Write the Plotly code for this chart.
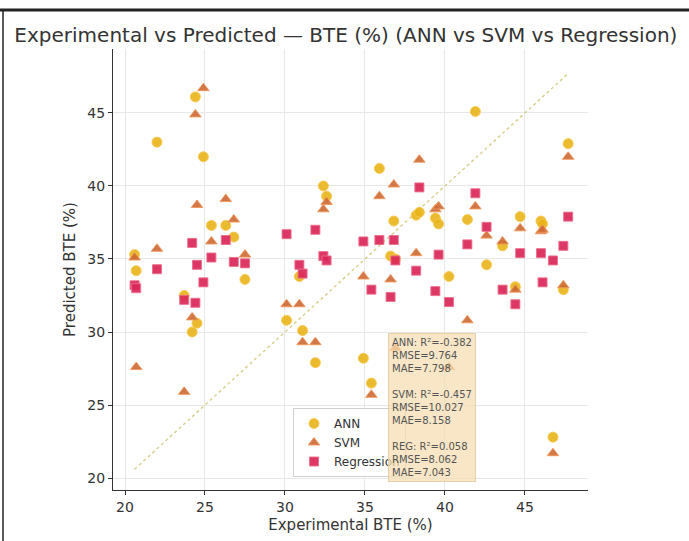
import plotly.graph_objects as go

# Experimental BTE (%) values (x) and predictions by each model
exp_bte = [20.6, 20.7, 22.0, 23.7, 24.2, 24.4, 24.5, 24.9, 25.4, 26.3, 26.8, 27.5,
           30.1, 30.9, 31.1, 31.9, 32.4, 32.6, 34.9, 35.4, 35.9, 36.6, 36.8, 36.9,
           38.2, 38.4, 39.4, 39.6, 40.25, 41.4, 41.9, 42.6, 43.6, 44.4, 44.7, 46.0,
           46.1, 46.75, 47.4, 47.7]
ann_pred = [35.3, 34.2, 43.0, 32.5, 30.0, 46.1, 30.6, 42.0, 37.3, 37.3, 36.5, 33.6,
            30.8, 33.8, 30.1, 27.9, 40.0, 39.3, 28.2, 26.5, 41.2, 35.2, 37.6, 35.0,
            38.0, 38.2, 37.8, 37.4, 33.8, 37.7, 45.1, 34.6, 35.9, 33.1, 37.9, 37.6,
            37.4, 22.8, 32.9, 42.9]
svm_pred = [35.1, 27.6, 35.7, 25.9, 31.0, 44.9, 38.7, 46.7, 36.2, 39.1, 37.7, 35.3,
            31.9, 31.9, 29.3, 29.3, 38.4, 38.9, 33.8, 25.7, 39.3, 33.6, 40.1, 28.9,
            35.4, 41.8, 38.4, 38.6, 27.6, 30.8, 38.6, 36.6, 36.2, 32.9, 37.1, 36.9,
            37.0, 21.7, 33.2, 42.0]
reg_pred = [33.2, 33.0, 34.3, 32.2, 36.1, 32.0, 34.6, 33.4, 35.1, 36.3, 34.8, 34.7,
            36.7, 34.6, 34.0, 37.0, 35.2, 34.9, 36.2, 32.9, 36.3, 32.4, 36.3, 34.9,
            34.2, 39.9, 32.8, 35.3, 32.05, 36.0, 39.5, 37.2, 32.9, 31.9, 35.4, 35.4,
            33.4, 34.9, 35.9, 37.9]

metrics_text = ["ANN: R²=-0.382", "RMSE=9.764", "MAE=7.798", "",
                "SVM: R²=-0.457", "RMSE=10.027", "MAE=8.158", "",
                "REG: R²=0.058", "RMSE=8.062", "MAE=7.043"]

x_ticks = [20, 25, 30, 35, 40, 45]
y_ticks = [20, 25, 30, 35, 40, 45]

diag = [min(exp_bte), max(exp_bte)]

fig = go.Figure()
fig.add_trace(go.Scatter(x=diag, y=diag, mode="lines", showlegend=False,
                         line=dict(color="#d9d08c", width=1.5, dash="dot"), hoverinfo="skip"))
fig.add_trace(go.Scatter(x=exp_bte, y=ann_pred, mode="markers", name="ANN",
                         marker=dict(symbol="circle", size=10, color="rgba(232,180,24,0.9)",
                                     line=dict(color="rgba(248,200,80,0.9)", width=1))))
fig.add_trace(go.Scatter(x=exp_bte, y=svm_pred, mode="markers", name="SVM",
                         marker=dict(symbol="triangle-up", size=10, color="rgba(204,104,52,0.9)",
                                     line=dict(color="rgba(240,150,90,0.9)", width=1))))
fig.add_trace(go.Scatter(x=exp_bte, y=reg_pred, mode="markers", name="Regression",
                         marker=dict(symbol="square", size=9, color="rgba(218,38,88,0.92)",
                                     line=dict(color="rgba(236,110,140,0.9)", width=1))))

fig.update_layout(
    width=689, height=541,
    margin=dict(l=113, r=101, t=49, b=51),
    paper_bgcolor="white", plot_bgcolor="white",
    font=dict(family="DejaVu Sans", color="#333333", size=14),
    title=dict(text="Experimental vs Predicted — BTE (%) (ANN vs SVM vs Regression)",
               x=0.502, xanchor="center", y=1 - 35 / 541, yanchor="middle",
               font=dict(size=20, color="#333333")),
    xaxis=dict(range=[19.25, 48.94], tickvals=x_ticks, ticktext=[str(v) for v in x_ticks],
               showgrid=True, gridcolor="#e8e8e8", gridwidth=1, zeroline=False,
               showline=True, linecolor="#333333", linewidth=1.2,
               ticks="outside", ticklen=4, tickcolor="#333333",
               tickfont=dict(size=14),
               title=dict(text="Experimental BTE (%)", font=dict(size=15), standoff=5)),
    yaxis=dict(range=[19.18, 49.38], tickvals=y_ticks, ticktext=[str(v) for v in y_ticks],
               showgrid=True, gridcolor="#e8e8e8", gridwidth=1, zeroline=False,
               showline=True, linecolor="#333333", linewidth=1.2,
               ticks="outside", ticklen=4, tickcolor="#333333",
               tickfont=dict(size=14),
               title=dict(text="Predicted BTE (%)", font=dict(size=15), standoff=8)),
    legend=dict(x=(293 - 113) / 475, y=(490 - 408) / 441, xanchor="left", yanchor="top",
                bgcolor="white", bordercolor="#d0d0d0", borderwidth=1,
                font=dict(size=12, color="#333333")),
    annotations=[dict(text="<br>".join(metrics_text), xref="paper", yref="paper",
                      x=(388 - 113) / 475, y=(490 - 333) / 441, xanchor="left", yanchor="top",
                      align="left", showarrow=False, font=dict(size=10, color="#555555"),
                      bgcolor="rgba(245,222,179,0.75)", bordercolor="rgba(230,205,160,0.9)",
                      borderwidth=1, borderpad=3)],
    shapes=[
        dict(type="line", xref="paper", yref="paper",
             x0=(0 - 113) / 475, x1=(689 - 113) / 475, y0=(490 - 10) / 441, y1=(490 - 10) / 441,
             line=dict(color="#222222", width=3)),
        dict(type="line", xref="paper", yref="paper",
             x0=(3 - 113) / 475, x1=(3 - 113) / 475, y0=(490 - 10) / 441, y1=(490 - 541) / 441,
             line=dict(color="#222222", width=1.5)),
    ],
)

fig.write_html("out.html")
